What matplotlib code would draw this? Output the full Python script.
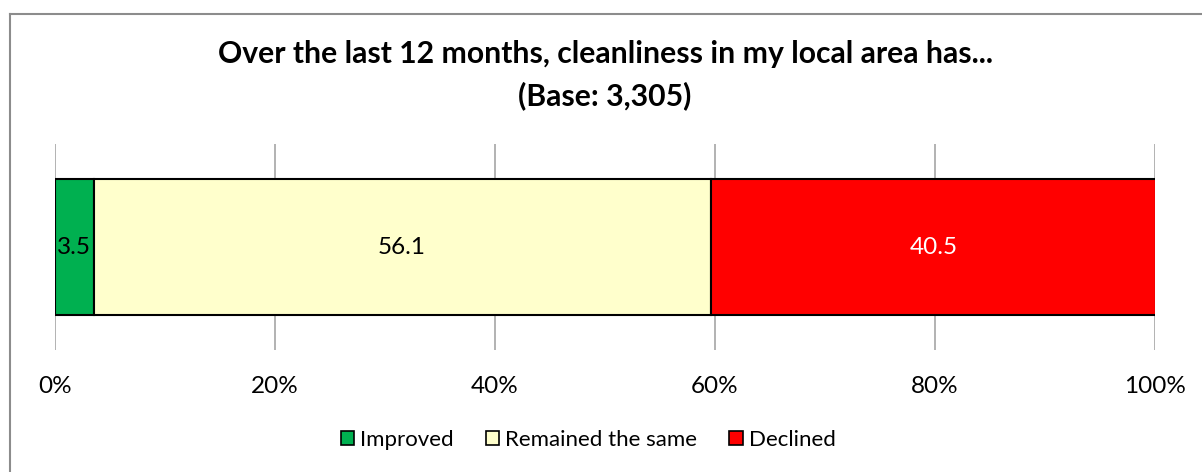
import matplotlib
matplotlib.use("Agg")
import matplotlib.pyplot as plt
from matplotlib.patches import Rectangle
from matplotlib.lines import Line2D

categories = ["Improved", "Remained the same", "Declined"]
values = [3.5, 56.1, 40.5]
colors = ["#00B050", "#FFFFCC", "#FF0000"]
label_colors = ["black", "black", "white"]
xticks = [0, 20, 40, 60, 80, 100]
xtick_labels = ["0%", "20%", "40%", "60%", "80%", "100%"]
title = "Over the last 12 months, cleanliness in my local area has...\n(Base: 3,305)"

plt.rcParams['font.family'] = ['Lato', 'DejaVu Sans']

fig = plt.figure(figsize=(12.02, 4.72), dpi=100)
W, H = 1202, 472
ax = fig.add_axes([55 / W, 1 - 350 / H, 1100 / W, 206 / H])

left = 0
for cat, v, c, lc in zip(categories, values, colors, label_colors):
    ax.barh(0, v, left=left, height=0.665, color=c, edgecolor="black",
            linewidth=1.5, label=cat, zorder=3)
    ax.text(left + v / 2, 0, f"{v:.1f}", ha="center", va="center",
            fontsize=17.5, color=lc, zorder=4)
    left += v

ax.set_xlim(0, 100)
ax.set_ylim(-0.5, 0.5)
ax.set_xticks(xticks)
ax.set_xticklabels(xtick_labels, fontsize=17.5)
ax.set_yticks([])
ax.tick_params(axis="x", length=0, pad=19)
ax.grid(axis="x", color="#A6A6A6", linewidth=1.2, zorder=0)
for s in ax.spines.values():
    s.set_visible(False)

fig.text(0.5 * (55 + 1155) / W, 1 - 75 / H, title, ha="center", va="center",
         fontsize=21.7, fontweight="bold", linespacing=1.55)

handles = [Rectangle((0, 0), 1, 1, facecolor=c, edgecolor="black", linewidth=1.2)
           for c in colors]
fig.legend(handles, categories, loc="center", bbox_to_anchor=(588 / W, 1 - 440 / H),
           ncol=3, frameon=False, fontsize=16, handlelength=0.62, handleheight=0.62,
           handletextpad=0.25, columnspacing=1.45, borderpad=0, borderaxespad=0)

# outer frame (top and left visible)
fig.add_artist(Line2D([9.5 / W, 1.0], [1 - 13.5 / H, 1 - 13.5 / H], color="#8C8C8C", linewidth=1.5))
fig.add_artist(Line2D([9.5 / W, 9.5 / W], [0, 1 - 13.5 / H], color="#8C8C8C", linewidth=1.5))

fig.savefig("out.png", dpi=100, facecolor="white")
